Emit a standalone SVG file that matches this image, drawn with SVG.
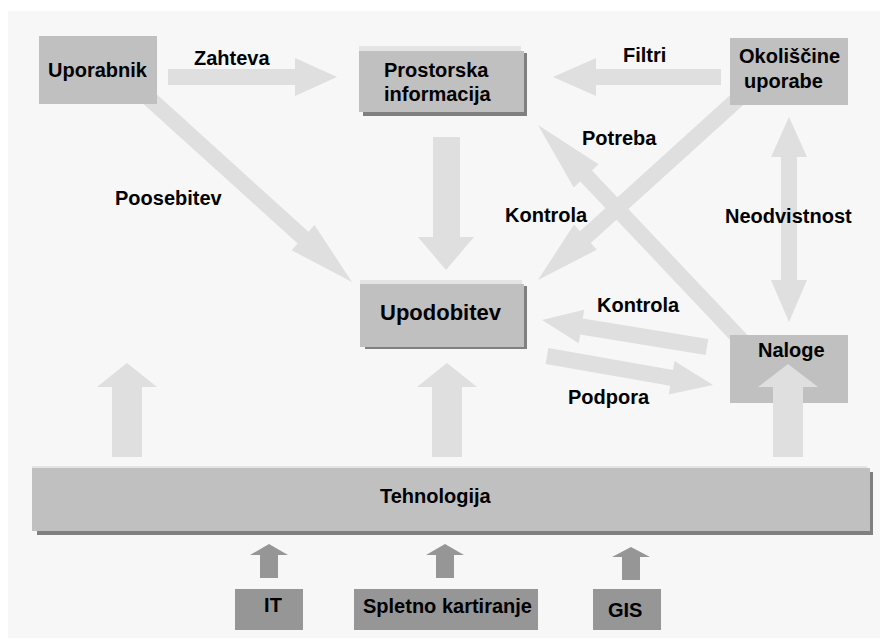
<svg xmlns="http://www.w3.org/2000/svg" width="880" height="639" viewBox="0 0 880 639">
<style>
  text { font-family: "Liberation Sans", Arial, sans-serif; font-weight: bold; font-size: 20px; fill: #000; }
  .arrow { fill: #dfdfdf; }
  .darrow { fill: #969696; }
  .box { fill: #c0c0c0; }
  .dbox { fill: #969696; }
  .hl { fill: #e4e4e4; }
  .sh { fill: #808080; }
</style>
<rect x="0" y="0" width="880" height="639" fill="#ffffff"/>
<rect x="8" y="11" width="872" height="627" fill="#f7f7f7"/>

<g id="connectors">
  <polygon class="arrow" points="168,69 295,69 295,58 337,77 295,96 295,85 168,85"/>
  <polygon class="arrow" points="721,69 596,69 596,58 553,77 596,96 596,85 721,85"/>
  <polygon class="arrow" points="433,137 460,137 460,237 474,237 446,270 418,237 433,237"/>
  <polygon class="arrow" points="134.6,95.9 297.7,243.6 291.7,250.3 352,282 314.5,225.1 308.5,231.8 145.4,84.1"/>
  <polygon class="arrow" points="749.8,337.5 591.9,170.4 598.5,164.2 538,125 573.7,187.6 580.3,181.4 738.2,348.5"/>
  <polygon class="arrow" points="744.6,82.1 580,231.2 574,224.5 538,280 596.8,249.7 590.8,243 755.4,93.9"/>
  <polygon class="arrow" points="789,117 807,157 797,157 797,280 807,280 789,322 771,280 781,280 781,157 771,157"/>
  <polygon class="arrow" points="708.3,339.1 582.8,318.6 584.2,309.7 542,320 578.8,343.3 580.2,334.4 705.7,354.9"/>
  <polygon class="arrow" points="548.4,348.1 673,369.9 674.5,361.1 713,385 668.7,394.6 670.2,385.7 545.6,363.9"/>
  <polygon class="arrow" points="112,457 112,387 97,387 127,363 157,387 142,387 142,457"/>
  <polygon class="arrow" points="432,457 432,387 417,387 447,363 477,387 462,387 462,457"/>
  <polygon class="darrow" points="260,578 260,555 250,555 269,544 288,555 278,555 278,578"/>
  <polygon class="darrow" points="436,578 436,555 426,555 445,544 464,555 454,555 454,578"/>
  <polygon class="darrow" points="622,580 622,557 612,557 631,547 650,557 640,557 640,580"/>
</g>

<g id="uporabnik">
  <rect class="box" x="39" y="36" width="118" height="68"/>
  <text x="48" y="77">Uporabnik</text>
</g>
<text id="label-zahteva" x="194" y="65">Zahteva</text>

<g id="prostorska">
  <rect class="hl" x="359" y="46" width="162" height="10"/>
  <rect class="sh" x="363" y="53" width="164" height="63"/>
  <rect class="box" x="359" y="51" width="165" height="61"/>
  <text x="384" y="77">Prostorska</text>
  <text x="384" y="101">informacija</text>
</g>
<text id="label-filtri" x="623" y="62">Filtri</text>

<g id="okoliscine">
  <rect class="box" x="730" y="38" width="118" height="67"/>
  <text x="739" y="63">Okoliščine</text>
  <text x="744" y="88">uporabe</text>
</g>

<text id="label-poosebitev" x="115" y="205">Poosebitev</text>
<text id="label-potreba" x="582" y="145">Potreba</text>
<text id="label-kontrola1" x="505" y="222">Kontrola</text>
<text id="label-neodvistnost" x="725" y="223">Neodvistnost</text>
<text id="label-kontrola2" x="597" y="312">Kontrola</text>
<text id="label-podpora" x="568" y="404">Podpora</text>

<g id="upodobitev">
  <rect class="hl" x="360" y="280" width="162" height="8"/>
  <rect class="sh" x="365" y="286" width="162" height="63"/>
  <rect class="box" x="360" y="284" width="164" height="63"/>
  <text x="380" y="320" style="font-size:22px">Upodobitev</text>
</g>

<g id="naloge">
  <rect class="box" x="730" y="335" width="118" height="68"/>
  <text x="758" y="357">Naloge</text>
  <polygon class="arrow" points="773,457 773,387 758,387 788,364 818,387 803,387 803,457"/>
</g>

<g id="tehnologija">
  <rect class="hl" x="32" y="466" width="835" height="6"/>
  <rect class="sh" x="37" y="472" width="836" height="63"/>
  <rect class="box" x="32" y="468" width="838" height="63"/>
  <text x="380" y="503">Tehnologija</text>
</g>

<g id="it">
  <rect class="dbox" x="235" y="589" width="68" height="41"/>
  <text x="273" y="612" text-anchor="middle">IT</text>
</g>
<g id="spletno">
  <rect class="dbox" x="354" y="589" width="184" height="41"/>
  <text x="363" y="613">Spletno kartiranje</text>
</g>
<g id="gis">
  <rect class="dbox" x="593" y="589" width="68" height="41"/>
  <text x="608" y="617">GIS</text>
</g>
</svg>
